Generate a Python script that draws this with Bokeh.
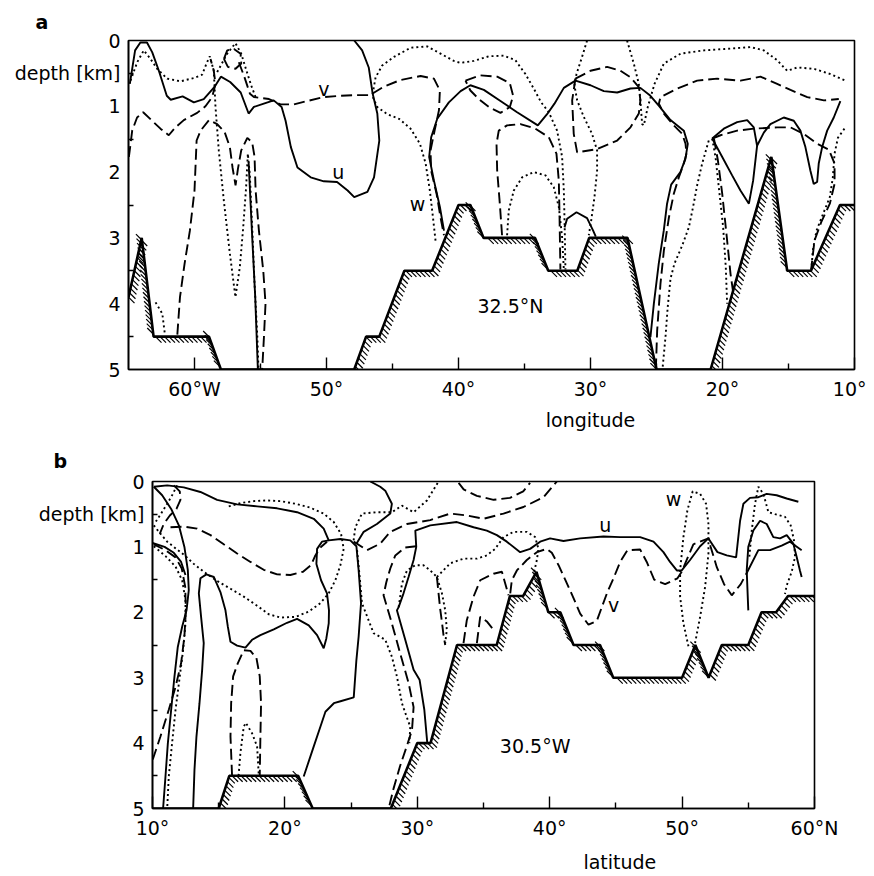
import math
from bokeh.plotting import figure
from bokeh.models import Range1d, FixedTicker, CustomJSTickFormatter, LinearAxis
from bokeh.layouts import column
from bokeh.core.properties import value
from bokeh.embed import file_html
from bokeh.resources import INLINE

FONT = "DejaVu Sans"

# ---------------- panel a : 32.5 N section, longitude (deg W) vs depth (km)
a_topo_lon = [65, 64.0, 63.1, 58.9, 58.0, 47.9, 47.0, 46.0, 44.1, 42.0, 40.0, 39.1, 38.1, 34.2, 33.2, 31.0, 30.1, 27.2, 25.0, 20.9, 16.3, 15.1, 13.3, 11.1, 10]
a_topo_dep = [3.9, 3.0, 4.5, 4.5, 5.0, 5.0, 4.5, 4.5, 3.5, 3.5, 2.5, 2.5, 3.0, 3.0, 3.5, 3.5, 3.0, 3.0, 5.0, 5.0, 1.77, 3.5, 3.5, 2.5, 2.5]

a_u1_lon = [64.9, 64.5, 64.1, 63.6, 63.2, 62.7, 62.1, 61.8, 60.9, 60.05, 59.3, 58.5, 58.0, 57.3, 56.5, 55.9, 55.5, 54.75, 54.0, 53.4, 53.1, 52.7, 52.2, 51.2, 50.2, 49.2, 48.4, 47.9, 46.9, 46.4, 46.0, 46.15, 46.5, 46.8, 47.3, 47.9]
a_u1_dep = [0.66, 0.15, 0.03, 0.03, 0.18, 0.46, 0.84, 0.9, 0.85, 0.94, 0.89, 0.71, 0.55, 0.63, 0.79, 1.11, 1.01, 0.96, 0.91, 1.01, 1.22, 1.62, 1.93, 2.08, 2.14, 2.15, 2.28, 2.38, 2.3, 2.08, 1.52, 1.11, 0.81, 0.41, 0.15, 0.0]
a_u2_lon = [55.9, 55.65, 55.4, 55.2]
a_u2_dep = [1.85, 2.9, 3.9, 5.0]
a_u3_lon = [41.1, 41.41, 41.86, 42.22, 42.07, 41.61, 40.73, 39.84, 39.1, 38.08, 36.82, 35.56, 33.99, 33.29, 32.73, 32.02, 31.14, 30.0, 28.99, 27.98, 26.97, 26.22, 25.46, 24.83, 23.94, 22.93, 22.63, 22.81, 23.19, 23.89, 24.2, 24.45, 24.83, 25.2, 25.46]
a_u3_dep = [2.89, 2.53, 2.13, 1.77, 1.47, 1.19, 0.94, 0.77, 0.68, 0.75, 0.92, 1.09, 1.29, 1.12, 0.96, 0.72, 0.61, 0.68, 0.77, 0.79, 0.73, 0.72, 0.84, 0.99, 1.21, 1.37, 1.57, 1.8, 2.0, 2.19, 2.48, 2.89, 3.39, 4.0, 4.51]
a_u4_lon = [20.78, 19.9, 18.89, 18.13, 17.63, 17.38, 16.87, 16.37, 15.36, 14.6, 14.1, 13.72, 13.34, 13.09, 12.83, 12.71, 12.45, 12.07, 11.57, 11.07]
a_u4_dep = [1.49, 1.34, 1.24, 1.21, 1.32, 1.6, 1.4, 1.27, 1.17, 1.22, 1.37, 1.62, 1.98, 2.18, 2.15, 1.87, 1.62, 1.37, 1.17, 0.92]
a_u5_lon = [20.78, 20.02, 19.27, 18.64, 18.0, 17.68, 17.38]
a_u5_dep = [1.49, 1.77, 2.05, 2.28, 2.48, 2.13, 1.6]
a_u6_lon = [31.97, 31.77, 31.06, 30.26, 29.8, 29.6]
a_u6_dep = [2.84, 2.71, 2.61, 2.7, 2.89, 2.98]

a_v1_lon = [56.64, 56.21, 55.8, 55.5, 54.36, 53.48, 52.47, 51.46, 50.2, 48.93, 47.92, 46.71, 45.65, 44.39, 42.87, 41.86, 41.41, 41.48, 41.81, 42.12, 42.07, 41.66, 41.36, 41.1]
a_v1_dep = [0.33, 0.56, 0.81, 0.86, 0.89, 0.97, 0.97, 0.92, 0.86, 0.84, 0.83, 0.83, 0.7, 0.6, 0.54, 0.58, 0.76, 1.06, 1.37, 1.67, 1.98, 2.33, 2.69, 2.96]
a_v2_lon = [64.97, 64.72, 64.35, 63.89, 63.21, 62.58, 61.95, 61.44, 60.81, 59.8, 59.17, 58.66, 58.41, 58.54, 58.79]
a_v2_dep = [1.77, 1.37, 1.17, 1.09, 1.22, 1.34, 1.44, 1.32, 1.21, 1.10, 1.0, 0.86, 0.66, 0.46, 0.28]
a_v3_lon = [61.3, 61.1, 60.75, 60.35, 60.0, 59.84, 59.54, 58.9, 58.28, 57.72, 57.32, 57.12, 56.89, 56.71, 56.46, 56.0, 55.63, 55.45, 55.37, 55.12, 54.79, 54.62, 54.74, 54.87]
a_v3_dep = [4.47, 3.9, 3.39, 2.89, 2.28, 1.52, 1.37, 1.21, 1.27, 1.39, 1.62, 1.93, 2.2, 1.95, 1.67, 1.48, 1.55, 1.77, 2.28, 2.89, 3.5, 4.0, 4.51, 5.0]
a_v4_lon = [57.77, 57.52, 57.01, 56.51, 56.46, 56.89, 57.47, 57.77]
a_v4_dep = [0.28, 0.15, 0.13, 0.2, 0.35, 0.43, 0.4, 0.28]
a_v5_lon = [39.47, 38.34, 37.07, 36.11, 35.86, 36.11, 36.82, 37.63, 38.46, 39.1, 39.47]
a_v5_dep = [0.61, 0.53, 0.55, 0.65, 0.84, 1.01, 1.1, 1.02, 0.89, 0.76, 0.61]
a_v6_lon = [36.7, 36.87, 37.07, 37.12, 36.95, 36.32, 35.31, 34.17, 33.16, 32.58, 32.4, 32.35, 32.28]
a_v6_dep = [2.96, 2.48, 1.98, 1.57, 1.37, 1.29, 1.27, 1.34, 1.47, 1.72, 2.13, 2.63, 3.48]
a_v7_lon = [31.14, 30.0, 28.74, 27.73, 26.97, 26.34, 26.22, 26.34, 26.97, 27.98, 29.5, 31.01, 31.27, 31.39, 31.14]
a_v7_dep = [0.58, 0.46, 0.4, 0.46, 0.56, 0.71, 0.91, 1.11, 1.32, 1.52, 1.65, 1.7, 1.42, 0.91, 0.58]
a_v8_lon = [25.05, 24.95, 24.7, 24.44, 24.06, 23.69, 23.31, 22.93, 22.73, 22.8, 23.05, 23.69, 24.44, 24.82, 24.7, 23.43, 21.92, 20.4, 18.64, 17.12, 15.86, 14.85, 13.58, 12.32, 11.19]
a_v8_dep = [5.0, 4.41, 3.7, 3.19, 2.69, 2.33, 2.08, 1.87, 1.72, 1.57, 1.42, 1.29, 1.11, 0.96, 0.86, 0.73, 0.61, 0.58, 0.61, 0.55, 0.66, 0.75, 0.86, 0.91, 0.89]
a_v9_lon = [20.78, 20.15, 18.89, 17.63, 15.86, 14.85, 13.84, 12.83, 11.94, 11.51, 11.51, 11.87, 12.52, 13.03, 13.28]
a_v9_dep = [1.49, 1.44, 1.37, 1.34, 1.32, 1.32, 1.42, 1.57, 1.66, 1.87, 2.18, 2.48, 2.76, 3.04, 3.47]
a_v10_lon = [20.65, 20.35, 20.02, 19.7, 19.39, 19.14]
a_v10_dep = [1.49, 1.82, 2.33, 2.94, 3.55, 3.9]

a_w1_lon = [64.85, 64.34, 63.84, 63.33, 62.83, 62.07, 61.06, 60.05, 59.42, 59.09, 58.84, 58.54, 58.41, 58.16, 57.78, 57.32, 56.9, 56.57, 56.31, 56.09, 55.96, 55.81, 55.63, 55.45, 55.25, 55.15]
a_w1_dep = [0.61, 0.33, 0.15, 0.28, 0.43, 0.58, 0.62, 0.57, 0.52, 0.35, 0.24, 0.46, 1.01, 1.67, 2.43, 3.24, 3.9, 3.45, 2.84, 2.23, 1.72, 2.03, 2.84, 3.7, 4.46, 5.0]
a_w2_lon = [58.28, 57.52, 56.9, 56.46, 56.06, 55.71, 55.3]
a_w2_dep = [0.48, 0.2, 0.04, 0.2, 0.46, 0.68, 0.9]
a_w3_lon = [62.95, 62.44, 62.24]
a_w3_dep = [3.98, 4.15, 4.47]
a_w4_lon = [41.74, 41.94, 42.17, 42.49, 42.92, 43.63, 44.51, 45.4, 46.16, 46.53, 46.28, 45.78, 44.89, 43.63, 42.37, 41.36, 40.35, 39.85, 38.84, 37.7, 36.57, 35.69, 34.93, 34.3, 33.74, 33.16, 32.53, 32.15, 32.02, 31.95, 31.9]
a_w4_dep = [3.04, 2.68, 2.28, 1.87, 1.57, 1.34, 1.19, 1.12, 1.01, 0.84, 0.56, 0.38, 0.25, 0.11, 0.09, 0.2, 0.31, 0.34, 0.31, 0.24, 0.23, 0.30, 0.51, 0.73, 0.94, 1.09, 1.37, 1.77, 2.28, 2.89, 3.48]
a_w5_lon = [36.32, 36.19, 35.81, 35.18, 34.3, 33.41, 32.78, 32.4, 32.15, 32.02]
a_w5_dep = [2.96, 2.58, 2.28, 2.08, 2.0, 2.05, 2.23, 2.53, 2.99, 3.48]
a_w6_lon = [30.26, 30.64, 31.06, 31.22, 31.01, 30.51, 29.88, 29.5, 29.5, 29.7, 29.95, 30.13]
a_w6_dep = [0.0, 0.25, 0.51, 0.68, 0.91, 1.16, 1.42, 1.67, 1.98, 2.38, 2.74, 2.96]
a_w7_lon = [27.23, 26.72, 26.34, 26.22, 26.09, 25.96, 25.66, 25.15, 24.44, 23.18, 21.41, 19.9, 17.88, 16.87, 15.86, 15.1, 14.34, 13.08, 11.82, 10.68]
a_w7_dep = [0.0, 0.35, 0.66, 0.91, 1.27, 1.29, 1.01, 0.66, 0.35, 0.20, 0.15, 0.13, 0.10, 0.15, 0.30, 0.46, 0.41, 0.43, 0.51, 0.61]
a_w8_lon = [10.76, 11.26, 11.51, 11.64, 11.87, 12.37, 12.88, 13.16, 13.26]
a_w8_dep = [1.34, 1.48, 1.72, 2.08, 2.38, 2.63, 2.89, 3.19, 3.47]
a_w9_lon = [20.78, 20.53, 20.28, 19.95, 19.75, 19.65]
a_w9_dep = [1.49, 1.77, 2.23, 2.84, 3.45, 4.0]
a_w10_lon = [21.04, 21.54, 21.92, 22.23, 22.55, 23.06, 23.64, 23.94, 24.15, 24.32, 24.55]
a_w10_dep = [1.52, 1.87, 2.2, 2.53, 2.84, 3.12, 3.39, 3.62, 4.05, 4.51, 5.0]

a_lab_text = ["v", "u", "w", "32.5°N"]
a_lab_lon = [50.2, 49.1, 43.1, 36.06]
a_lab_dep = [0.73, 2.0, 2.48, 4.03]

# ---------------- panel b : 30.5 W section, latitude (deg N) vs depth (km)
b_topo_lat = [10.0, 15.0, 15.8, 21.0, 22.1, 28.0, 30.0, 31.0, 33.0, 36.0, 37.0, 38.0, 39.0, 39.9, 40.8, 41.8, 43.8, 44.8, 50.0, 51.0, 52.0, 53.0, 55.0, 56.0, 57.1, 58.0, 60.0]
b_topo_dep = [5.0, 5.0, 4.5, 4.5, 5.0, 5.0, 4.0, 4.0, 2.5, 2.5, 1.75, 1.75, 1.38, 2.0, 2.0, 2.5, 2.5, 3.0, 3.0, 2.5, 3.0, 2.5, 2.5, 2.0, 2.0, 1.75, 1.75]

b_u1_lat = [10.1, 11.11, 12.36, 13.62, 14.88, 16.39, 17.9, 19.41, 20.92, 22.18, 22.93, 23.31, 24.19, 24.94, 25.4, 25.57, 25.75, 25.57, 25.4, 25.2, 24.2, 23.7, 23.06, 22.68, 22.18, 21.42]
b_u1_dep = [0.08, 0.06, 0.09, 0.16, 0.28, 0.35, 0.38, 0.41, 0.47, 0.57, 0.72, 0.9, 0.88, 0.9, 0.99, 1.36, 1.86, 2.37, 2.73, 3.3, 3.36, 3.39, 3.52, 3.75, 4.05, 4.51]
b_u2_lat = [23.31, 22.8, 22.43, 22.38, 22.73, 23.18, 23.33, 23.31, 23.13, 22.93, 22.43, 21.8, 20.92, 20.16, 19.16, 18.15, 17.52, 17.02, 16.39, 15.89, 15.69, 15.51, 15.13, 14.63, 14.07, 13.62, 13.5, 13.67, 13.87, 13.75, 13.55, 13.32, 13.17, 13.07]
b_u2_dep = [0.9, 0.92, 1.03, 1.26, 1.51, 1.71, 1.97, 2.17, 2.4, 2.55, 2.35, 2.2, 2.1, 2.16, 2.26, 2.35, 2.42, 2.54, 2.51, 2.45, 2.22, 1.97, 1.69, 1.46, 1.42, 1.48, 1.71, 2.07, 2.47, 2.88, 3.39, 3.9, 4.41, 5.0]
b_u3_lat = [26.45, 27.2, 27.58, 28.08, 27.96, 26.95, 25.95, 25.4]
b_u3_dep = [0.0, 0.08, 0.14, 0.34, 0.49, 0.65, 0.77, 0.95]
b_u4_lat = [10.1, 10.73, 11.41, 11.99, 12.41, 12.67, 12.74, 12.57, 12.24, 11.91, 11.66, 11.41, 11.16, 10.98, 10.8]
b_u4_dep = [0.08, 0.21, 0.42, 0.67, 1.0, 1.36, 1.66, 1.97, 2.22, 2.53, 2.98, 3.49, 4.0, 4.51, 5.0]
b_u5_lat = [10.0, 10.91, 11.61, 12.16, 12.49]
b_u5_dep = [0.94, 1.0, 1.09, 1.23, 1.43]
b_u6_lat = [30.75, 30.53, 30.17, 29.72, 29.09, 28.46, 28.59, 28.96, 29.34, 29.72, 29.92, 29.85, 30.98, 32.99, 34.25, 35.25, 36.01, 36.76, 37.77, 38.52, 39.28, 40.03, 41.04, 42.3, 44.06, 45.32, 46.83, 47.84, 48.59, 49.09, 49.6, 49.97, 50.6, 51.36, 51.99, 52.67, 53.37, 54.08, 54.38, 54.63, 55.13, 55.76, 56.39, 57.14, 57.9, 58.78]
b_u6_dep = [3.99, 3.49, 3.03, 2.88, 2.42, 1.97, 1.92, 1.71, 1.46, 1.2, 1.0, 0.75, 0.67, 0.62, 0.7, 0.75, 0.82, 0.92, 1.08, 1.03, 0.92, 0.87, 0.91, 0.87, 0.84, 0.85, 0.85, 0.92, 1.08, 1.23, 1.36, 1.36, 1.2, 0.99, 0.87, 1.08, 1.13, 1.16, 0.6, 0.34, 0.25, 0.24, 0.19, 0.21, 0.26, 0.31]
b_u7_lat = [55.0, 54.88, 55.0, 55.38, 55.89, 56.39, 56.89, 57.4, 57.9, 58.4, 58.65, 58.9, 59.03]
b_u7_dep = [1.97, 1.36, 1.0, 0.75, 0.6, 0.65, 0.85, 0.87, 0.82, 0.95, 1.15, 1.36, 1.46]
b_u8_lat = [54.93, 55.76, 56.64, 57.52, 58.15, 58.53, 59.03]
b_u8_dep = [1.38, 1.05, 1.05, 0.98, 0.92, 0.98, 1.05]

b_v1_lat = [11.36, 12.36, 13.37, 14.38, 15.38, 16.39, 17.4, 18.4, 19.41, 20.41, 21.37, 21.97, 22.3, 22.68, 23.18]
b_v1_dep = [0.7, 0.69, 0.72, 0.82, 0.96, 1.1, 1.23, 1.35, 1.42, 1.43, 1.38, 1.28, 1.13, 1.01, 0.92]
b_v2_lat = [16.01, 15.89, 15.94, 16.09, 16.44, 16.89, 17.4, 17.85, 18.1, 18.2, 18.15, 18.1]
b_v2_dep = [4.5, 3.9, 3.39, 2.98, 2.78, 2.58, 2.59, 2.7, 2.98, 3.39, 3.9, 4.5]
b_v3_lat = [10.02, 10.6, 11.23, 11.74, 12.16, 12.41, 12.52, 12.47, 12.21, 11.74, 10.98, 10.1]
b_v3_dep = [4.25, 3.9, 3.49, 3.14, 2.78, 2.37, 1.97, 1.61, 1.33, 1.16, 1.05, 0.96]
b_v4_lat = [11.61, 12.06, 12.11, 11.81, 11.31, 10.85, 10.55]
b_v4_dep = [0.06, 0.15, 0.28, 0.42, 0.52, 0.65, 0.8]
b_v5_lat = [25.19, 26.2, 27.2, 27.96, 29.22, 30.98, 32.49, 33.74, 35.0, 36.51, 38.02, 39.53, 40.54]
b_v5_dep = [0.92, 1.05, 0.95, 0.77, 0.65, 0.59, 0.49, 0.52, 0.57, 0.49, 0.39, 0.24, 0.0]
b_v6_lat = [29.92, 29.09, 28.34, 27.96, 27.66, 27.45, 28.08, 28.71, 29.34, 29.72, 29.6, 29.2, 28.7, 28.2, 27.9]
b_v6_dep = [0.99, 1.01, 1.13, 1.33, 1.54, 1.74, 2.17, 2.63, 3.08, 3.45, 3.8, 4.05, 4.35, 4.7, 4.95]
b_v7_lat = [31.48, 31.6, 31.73, 31.86, 31.98, 32.11]
b_v7_dep = [1.46, 1.7, 1.95, 2.15, 2.35, 2.5]
b_v8_lat = [33.49, 33.74, 34.25, 34.75, 35.76, 36.39, 36.64, 36.89]
b_v8_dep = [2.47, 2.12, 1.76, 1.51, 1.41, 1.38, 1.56, 1.74]
b_v9_lat = [34.5, 34.75, 35.25, 35.88]
b_v9_dep = [2.47, 2.07, 2.14, 2.3]
b_v10_lat = [37.02, 37.14, 37.52, 38.27, 39.03, 39.78, 40.16, 40.67, 41.17, 41.75, 42.3, 42.93, 43.56, 43.94, 44.36, 44.82, 45.32, 45.87, 46.83, 47.33, 47.89, 48.72, 49.65, 49.97, 50.85, 51.99, 52.16, 52.62, 53.17, 53.75, 54.43, 54.93]
b_v10_dep = [1.71, 1.51, 1.36, 1.2, 1.08, 1.03, 1.09, 1.28, 1.5, 1.76, 2.02, 2.19, 2.13, 1.92, 1.69, 1.48, 1.23, 1.05, 1.04, 1.23, 1.5, 1.57, 1.48, 1.38, 0.96, 0.87, 1.0, 1.31, 1.57, 1.74, 1.57, 1.38]
b_v11_lat = [33.12, 33.5, 34.5, 35.76, 37.0, 38.0, 38.52]
b_v11_dep = [0.02, 0.12, 0.22, 0.28, 0.25, 0.15, 0.02]

b_w1_lat = [15.76, 16.64, 17.65, 18.65, 19.66, 20.79, 21.92, 22.93, 23.69, 24.24, 24.44, 24.19, 23.81, 23.31, 22.68, 21.8, 20.79, 19.66, 18.78, 17.9, 16.89, 15.89, 14.88, 13.87, 13.12, 12.49, 11.11, 10.48, 10.1]
b_w1_dep = [0.38, 0.33, 0.3, 0.29, 0.3, 0.34, 0.4, 0.49, 0.62, 0.8, 1.03, 1.28, 1.51, 1.71, 1.86, 1.99, 2.07, 2.08, 2.03, 1.9, 1.76, 1.64, 1.52, 1.38, 1.26, 1.14, 0.92, 0.77, 0.67]
b_w2_lat = [10.1, 10.98, 11.74, 12.24, 12.49, 12.49, 12.31, 12.06, 11.74, 11.48, 11.23, 11.11]
b_w2_dep = [0.99, 1.14, 1.3, 1.51, 1.81, 2.17, 2.58, 2.98, 3.49, 4.0, 4.51, 5.0]
b_w3_lat = [11.86, 11.48, 11.11, 10.65, 10.23]
b_w3_dep = [0.06, 0.21, 0.34, 0.49, 0.62]
b_w4_lat = [16.5, 16.64, 16.89, 17.05, 17.52, 17.9, 18.03]
b_w4_dep = [4.5, 4.15, 3.75, 3.69, 3.85, 4.05, 4.5]
b_w5_lat = [25.19, 25.32, 25.82, 26.95, 28.08, 28.84, 29.72, 30.73, 31.61]
b_w5_dep = [0.9, 0.7, 0.49, 0.47, 0.47, 0.37, 0.47, 0.29, 0.0]
b_w6_lat = [25.45, 25.65, 25.82, 26.7, 27.58, 28.08, 28.46, 28.84, 29.2, 29.47, 29.4]
b_w6_dep = [1.05, 1.46, 1.86, 2.32, 2.42, 2.68, 2.98, 3.39, 3.6, 3.75, 4.0]
b_w7_lat = [28.59, 28.71, 28.84, 29.22, 29.85, 30.47, 30.98, 31.48, 31.86, 32.11, 32.23, 32.11]
b_w7_dep = [1.92, 1.76, 1.56, 1.36, 1.28, 1.28, 1.36, 1.46, 1.71, 1.97, 2.27, 2.47]
b_w8_lat = [31.48, 32.49, 33.49, 34.5, 35.25, 35.88, 36.51, 37.27, 38.27, 38.9, 39.15, 39.03, 38.83]
b_w8_dep = [1.46, 1.25, 1.18, 1.18, 1.13, 1.03, 0.85, 0.77, 0.77, 0.85, 1.03, 1.2, 1.38]
b_w10_lat = [50.48, 50.1, 49.85, 49.85, 50.1, 50.4, 50.8, 51.36, 51.81, 51.99, 51.99, 51.74, 51.36, 50.98]
b_w10_dep = [2.52, 2.17, 1.76, 1.36, 0.85, 0.44, 0.15, 0.19, 0.34, 0.65, 1.1, 1.61, 2.07, 2.47]
b_w11_lat = [55.08, 55.26, 55.51, 55.76, 56.14, 56.52, 57.02, 57.77, 58.2, 58.45, 58.53, 58.28, 57.9, 57.77]
b_w11_dep = [1.15, 0.75, 0.34, 0.08, 0.19, 0.47, 0.5, 0.54, 0.67, 0.9, 1.15, 1.38, 1.59, 1.72]

b_lab_text = ["u", "v", "w", "30.5°W"]
b_lab_lat = [44.19, 44.82, 49.35, 38.9]
b_lab_dep = [0.67, 1.89, 0.26, 4.05]

a_xticks = [60, 50, 40, 30, 20, 10]
a_xminor = [55, 45, 35, 25, 15]
b_xticks = [10, 20, 30, 40, 50, 60]
b_xminor = [15, 25, 35, 45, 55]
y_ticks = [0, 0.5, 1, 2, 3, 4, 5]
y_minor = [0.5, 1.5, 2.5, 3.5, 4.5]
a_name_pos = [30.0]     # where the axis name "longitude" sits
b_name_pos = [45.3]     # where the axis name "latitude" sits

SOLID = dict(line_color="black", line_width=1.9)
DASH = dict(line_color="black", line_width=1.9, line_dash="11 5")
DOT = dict(line_color="black", line_width=1.9, line_dash="2 3")


def hatch(xs, ys, xr, fw, fh, step=4.5, length=8.5):
    x0, x1 = xr
    sx = [(x - x0) / (x1 - x0) * fw for x in xs]
    sy = [y / 5.0 * fh for y in ys]
    X0, Y0, X1, Y1 = [], [], [], []
    carry = 0.0
    for i in range(len(sx) - 1):
        ax, ay, bx, by = sx[i], sy[i], sx[i + 1], sy[i + 1]
        dx, dy = bx - ax, by - ay
        L = math.hypot(dx, dy)
        if L == 0:
            continue
        ux, uy = dx / L, dy / L
        nx, ny = -uy, ux
        s = 1.0 if (nx + ny) >= 0 else -1.0
        h = s * length / math.sqrt(2)
        t = carry
        while t <= L:
            px, py = ax + ux * t, ay + uy * t
            X0.append(x0 + px / fw * (x1 - x0)); Y0.append(py / fh * 5.0)
            X1.append(x0 + (px + h) / fw * (x1 - x0)); Y1.append((py + h) / fh * 5.0)
            t += step
        carry = t - L
    return X0, Y0, X1, Y1


def make_panel(width, height, bl, bt, br, bb, xr, xticks, xminor, hemi,
               letter, letter_offset, letter_standoff, name, name_pos, name_standoff):
    p = figure(width=width, height=height, x_range=Range1d(*xr), y_range=Range1d(5, 0),
               output_backend="svg", toolbar_location=None, tools="",
               min_border_left=bl, min_border_top=bt, min_border_right=br, min_border_bottom=bb)
    p.frame_align = False
    p.grid.visible = False
    p.outline_line_color = "black"
    p.outline_line_width = 1.6
    p.background_fill_color = "white"
    p.border_fill_color = "white"
    p.title.text = letter
    p.title.align = "left"
    p.title.offset = letter_offset
    p.title.standoff = letter_standoff
    p.title.text_font = FONT
    p.title.text_font_size = "19px"
    p.title.text_font_style = "bold"
    p.title.text_color = "black"
    p.title.vertical_align = "bottom"
    xa = p.xaxis[0]
    xa.ticker = FixedTicker(ticks=xticks, minor_ticks=xminor)
    xa.formatter = CustomJSTickFormatter(code='return tick == 60 ? "60°%s" : tick + "°";' % hemi)
    xa.major_tick_in = 12
    xa.major_tick_out = 0
    xa.minor_tick_in = 6
    xa.minor_tick_out = 0
    xa.major_label_standoff = 8
    ya = p.yaxis[0]
    ya.ticker = FixedTicker(ticks=y_ticks, minor_ticks=y_minor)
    ya.formatter = CustomJSTickFormatter(code='return tick == 0.5 ? "depth [km]" : tick.toFixed(0);')
    ya.major_tick_in = 0
    ya.major_tick_out = 0
    ya.minor_tick_in = 5
    ya.minor_tick_out = 0
    ya.major_label_standoff = 8
    for ax in (xa, ya):
        ax.axis_line_width = 1.6
        ax.axis_line_color = "black"
        ax.major_tick_line_width = 1.4
        ax.minor_tick_line_width = 1.4
        ax.major_label_text_font = FONT
        ax.major_label_text_font_size = "19px"
        ax.major_label_text_color = "black"
    name_axis = LinearAxis(ticker=FixedTicker(ticks=name_pos, minor_ticks=[]),
                           formatter=CustomJSTickFormatter(code='return "%s";' % name),
                           axis_line_color=None, major_tick_line_color=None,
                           minor_tick_line_color=None, major_tick_in=0, major_tick_out=0,
                           major_label_standoff=name_standoff,
                           major_label_text_font=FONT, major_label_text_font_size="19px",
                           major_label_text_color="black")
    p.add_layout(name_axis, "below")
    return p


# panel a
W = 866
p1 = make_panel(W, 434, 128, 40, 12, 65, (65, 10), a_xticks, a_xminor, "W",
                "a", -93, 16, "longitude", a_name_pos, 6)
fw1, fh1 = 726, 329
for xs, ys, st in [
    (a_u1_lon, a_u1_dep, SOLID), (a_u2_lon, a_u2_dep, SOLID), (a_u3_lon, a_u3_dep, SOLID),
    (a_u4_lon, a_u4_dep, SOLID), (a_u5_lon, a_u5_dep, SOLID), (a_u6_lon, a_u6_dep, SOLID),
    (a_v1_lon, a_v1_dep, DASH), (a_v2_lon, a_v2_dep, DASH), (a_v3_lon, a_v3_dep, DASH),
    (a_v4_lon, a_v4_dep, DASH), (a_v5_lon, a_v5_dep, DASH), (a_v6_lon, a_v6_dep, DASH),
    (a_v7_lon, a_v7_dep, DASH), (a_v8_lon, a_v8_dep, DASH), (a_v9_lon, a_v9_dep, DASH),
    (a_v10_lon, a_v10_dep, DASH),
    (a_w1_lon, a_w1_dep, DOT), (a_w2_lon, a_w2_dep, DOT), (a_w3_lon, a_w3_dep, DOT),
    (a_w4_lon, a_w4_dep, DOT), (a_w5_lon, a_w5_dep, DOT), (a_w6_lon, a_w6_dep, DOT),
    (a_w7_lon, a_w7_dep, DOT), (a_w8_lon, a_w8_dep, DOT), (a_w9_lon, a_w9_dep, DOT),
    (a_w10_lon, a_w10_dep, DOT)]:
    p1.line(xs, ys, **st)
hx0, hy0, hx1, hy1 = hatch(a_topo_lon, a_topo_dep, (65, 10), fw1, fh1)
p1.segment(hx0, hy0, hx1, hy1, line_color="black", line_width=1.2)
p1.line(a_topo_lon, a_topo_dep, line_color="black", line_width=2.6)
p1.text(a_lab_lon, a_lab_dep, text=a_lab_text, text_font=value(FONT), text_font_size="19px",
        text_align="center", text_baseline="middle", text_color="black")

# panel b
p2 = make_panel(W, 441, 152, 47, 52, 66, (10, 60), b_xticks, b_xminor, "N",
                "b", -99, 20, "latitude", b_name_pos, 9)
fw2, fh2 = 662, 328
for xs, ys, st in [
    (b_u1_lat, b_u1_dep, SOLID), (b_u2_lat, b_u2_dep, SOLID), (b_u3_lat, b_u3_dep, SOLID),
    (b_u4_lat, b_u4_dep, SOLID), (b_u5_lat, b_u5_dep, SOLID), (b_u6_lat, b_u6_dep, SOLID),
    (b_u7_lat, b_u7_dep, SOLID), (b_u8_lat, b_u8_dep, SOLID),
    (b_v1_lat, b_v1_dep, DASH), (b_v2_lat, b_v2_dep, DASH), (b_v3_lat, b_v3_dep, DASH),
    (b_v4_lat, b_v4_dep, DASH), (b_v5_lat, b_v5_dep, DASH), (b_v6_lat, b_v6_dep, DASH),
    (b_v7_lat, b_v7_dep, DASH), (b_v8_lat, b_v8_dep, DASH), (b_v9_lat, b_v9_dep, DASH),
    (b_v10_lat, b_v10_dep, DASH), (b_v11_lat, b_v11_dep, DASH),
    (b_w1_lat, b_w1_dep, DOT), (b_w2_lat, b_w2_dep, DOT), (b_w3_lat, b_w3_dep, DOT),
    (b_w4_lat, b_w4_dep, DOT), (b_w5_lat, b_w5_dep, DOT), (b_w6_lat, b_w6_dep, DOT),
    (b_w7_lat, b_w7_dep, DOT), (b_w8_lat, b_w8_dep, DOT),
    (b_w10_lat, b_w10_dep, DOT), (b_w11_lat, b_w11_dep, DOT)]:
    p2.line(xs, ys, **st)
hx0, hy0, hx1, hy1 = hatch(b_topo_lat, b_topo_dep, (10, 60), fw2, fh2)
p2.segment(hx0, hy0, hx1, hy1, line_color="black", line_width=1.2)
p2.line(b_topo_lat, b_topo_dep, line_color="black", line_width=2.6)
p2.text(b_lab_lat, b_lab_dep, text=b_lab_text, text_font=value(FONT), text_font_size="19px",
        text_align="center", text_baseline="middle", text_color="black")

layout = column(p1, p2)
open("out.html", "w").write(file_html(layout, INLINE))
